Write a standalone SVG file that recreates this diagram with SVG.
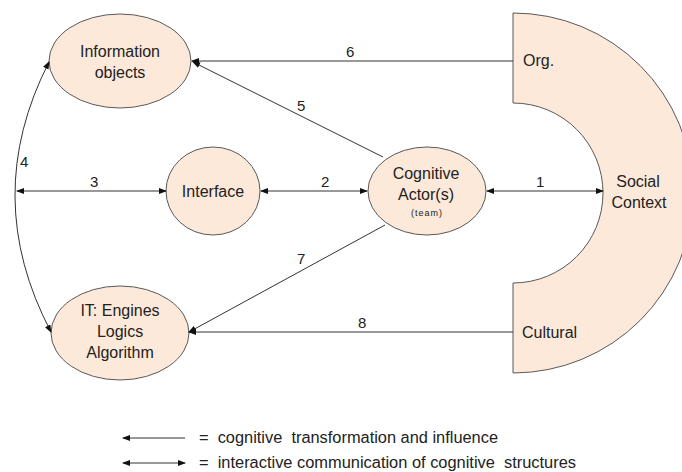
<svg xmlns="http://www.w3.org/2000/svg" width="682" height="472" viewBox="0 0 682 472">
<style>
.node{fill:#fde9d9;stroke:#595959;stroke-width:1}
.t{font-family:"Liberation Sans",Arial,sans-serif;font-size:16px;fill:#222;text-anchor:middle}
.s{font-family:"Liberation Sans",Arial,sans-serif;font-size:15px;fill:#222}
.c{stroke:#333;stroke-width:1;fill:none}
</style>
<defs>
<marker id="ah" markerWidth="8" markerHeight="6" refX="7" refY="3" orient="auto-start-reverse" markerUnits="userSpaceOnUse">
<path d="M0,0 L8,3 L0,6 z" fill="#111"/>
</marker>
</defs>
<rect width="682" height="472" fill="#fff"/>
<g id="social-context">
<path class="node" d="M513,13 A180,180 0 0 1 513,373 L513,283 A90,90 0 0 0 513,103 Z"/>
<text class="s" x="523" y="66" style="font-size:16px">Org.</text>
<text class="t" x="638" y="187">Social</text>
<text class="t" x="639" y="208">Context</text>
<text class="s" x="522" y="338" style="font-size:16px">Cultural</text>
</g>
<g id="information-objects">
<ellipse class="node" cx="120" cy="61" rx="71" ry="47"/>
<text class="t" x="120" y="57">Information</text>
<text class="t" x="120" y="78">objects</text>
</g>
<g id="interface">
<ellipse class="node" cx="213" cy="191" rx="47" ry="44"/>
<text class="t" x="213" y="197">Interface</text>
</g>
<g id="cognitive-actor">
<ellipse class="node" cx="427" cy="191" rx="59" ry="44"/>
<text class="t" x="426" y="179">Cognitive</text>
<text class="t" x="426" y="200">Actor(s)</text>
<text class="t" x="427" y="216" style="font-size:9px;letter-spacing:1px">(team)</text>
</g>
<g id="it-engines">
<ellipse class="node" cx="120" cy="333" rx="69" ry="47"/>
<text class="t" x="120" y="316">IT: Engines</text>
<text class="t" x="120" y="337">Logics</text>
<text class="t" x="120" y="358">Algorithm</text>
</g>
<g id="connectors">
<line class="c" x1="513" y1="61" x2="192" y2="61" marker-end="url(#ah)"/>
<line class="c" x1="383" y1="157" x2="193" y2="62" marker-end="url(#ah)"/>
<line class="c" x1="261" y1="191" x2="367" y2="191" marker-start="url(#ah)" marker-end="url(#ah)"/>
<line class="c" x1="487" y1="191" x2="603" y2="191" marker-start="url(#ah)" marker-end="url(#ah)"/>
<line class="c" x1="17" y1="191" x2="166" y2="191" marker-start="url(#ah)" marker-end="url(#ah)"/>
<path class="c" d="M49,62 Q-20,197 51,332" marker-start="url(#ah)" marker-end="url(#ah)"/>
<line class="c" x1="385" y1="225" x2="189" y2="332" marker-end="url(#ah)"/>
<line class="c" x1="513" y1="332" x2="189" y2="332" marker-end="url(#ah)"/>
<text class="s" x="346" y="57">6</text>
<text class="s" x="297" y="111">5</text>
<text class="s" x="321" y="187">2</text>
<text class="s" x="536" y="187">1</text>
<text class="s" x="90" y="187">3</text>
<text class="s" x="20" y="167">4</text>
<text class="s" x="297" y="264">7</text>
<text class="s" x="358" y="328">8</text>
</g>
<g id="legend">
<line class="c" x1="123" y1="438" x2="185" y2="438" marker-start="url(#ah)"/>
<line class="c" x1="123" y1="463" x2="185" y2="463" marker-start="url(#ah)" marker-end="url(#ah)"/>
<text class="s" x="199" y="443" style="font-size:16px;white-space:pre" textLength="299" lengthAdjust="spacingAndGlyphs">=  cognitive  transformation and influence</text>
<text class="s" x="199" y="468" style="font-size:16px;white-space:pre" textLength="377" lengthAdjust="spacingAndGlyphs">=  interactive communication of cognitive  structures</text>
</g>
</svg>
